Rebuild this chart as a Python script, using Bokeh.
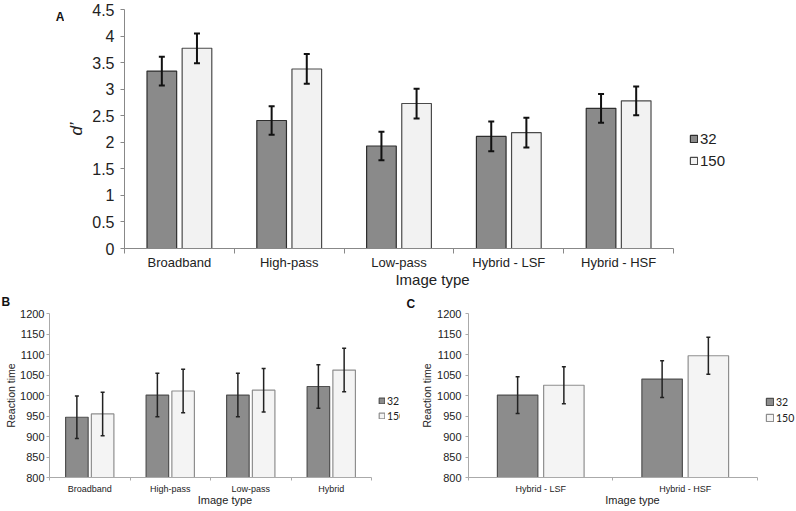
from bokeh.plotting import figure
from bokeh.layouts import column, row
from bokeh.models import (ColumnDataSource, Range1d, FixedTicker, Whisker, TeeHead,
                          Legend, LegendItem, Label, Title)
from bokeh.embed import file_html
from bokeh.resources import INLINE

# ---------------- data ----------------
series = ["32", "150"]

cats_a = ["Broadband", "High-pass", "Low-pass", "Hybrid - LSF", "Hybrid - HSF"]
dprime_32 = [3.34, 2.41, 1.93, 2.11, 2.64]
dprime_150 = [3.77, 3.38, 2.73, 2.18, 2.78]
dprime_err_32 = [0.27, 0.27, 0.27, 0.28, 0.27]
dprime_err_150 = [0.28, 0.28, 0.28, 0.28, 0.27]
yticks_a = [0, 0.5, 1, 1.5, 2, 2.5, 3, 3.5, 4, 4.5]

cats_b = ["Broadband", "High-pass", "Low-pass", "Hybrid"]
rt_b_32 = [947, 1001, 1001, 1022]
rt_b_150 = [955, 1011, 1013, 1062]
rt_b_err_32 = [52, 53, 53, 53]
rt_b_err_150 = [53, 53, 53, 53]

cats_c = ["Hybrid - LSF", "Hybrid - HSF"]
rt_c_32 = [1001, 1040]
rt_c_150 = [1025, 1097]
rt_c_err_32 = [45, 45]
rt_c_err_150 = [45, 45]

yticks_rt = [800, 850, 900, 950, 1000, 1050, 1100, 1150, 1200]

FONT = "Liberation Sans"


def make_panel(cats, v32, v150, e32, e150, yticks, width, height, borders, sty,
               legend_xy, x_extra):
    n = len(cats)
    p = figure(width=width, height=height, output_backend="svg", toolbar_location=None,
               x_range=Range1d(0, n + x_extra), y_range=Range1d(yticks[0], yticks[-1]),
               min_border_left=borders[0], min_border_right=borders[1],
               min_border_top=borders[2], min_border_bottom=borders[3])
    p.outline_line_color = None
    p.grid.grid_line_color = None

    off = 0.16
    bw = sty["bw"]
    renderers = []
    for vals, errs, sgn, fill, line in [(v32, e32, -1, sty["dark"], sty["dark_line"]),
                                        (v150, e150, 1, sty["light"], sty["light_line"])]:
        xs = [i + 0.5 + sgn * off for i in range(n)]
        src = ColumnDataSource(dict(x=xs, top=vals,
                                    upper=[v + e for v, e in zip(vals, errs)],
                                    lower=[v - e for v, e in zip(vals, errs)]))
        r = p.vbar(x="x", top="top", bottom=yticks[0], width=bw, source=src,
                   fill_color=fill, line_color=line, line_width=sty["bar_lw"])
        renderers.append(r)
        w = Whisker(base="x", upper="upper", lower="lower", source=src, level="overlay",
                    line_color=sty["err"], line_width=sty["err_lw"],
                    upper_head=TeeHead(size=sty["cap"], line_color=sty["err"], line_width=sty["err_lw"]),
                    lower_head=TeeHead(size=sty["cap"], line_color=sty["err"], line_width=sty["err_lw"]))
        p.add_layout(w)

    # x axis: labels at centres, ticks at category boundaries
    xa = p.xaxis[0]
    centers = [i + 0.5 for i in range(n)]
    xa.ticker = FixedTicker(ticks=centers, minor_ticks=list(range(n + 1)))
    xa.bounds = (0, n)
    xa.major_label_overrides = {c: cat for c, cat in zip(centers, cats)}
    xa.major_tick_line_color = None
    xa.minor_tick_line_color = sty["axis"]
    xa.minor_tick_out = sty["xtick"]
    xa.minor_tick_in = 0
    xa.axis_line_color = sty["axis"]
    xa.major_label_text_font = FONT
    xa.major_label_text_font_size = sty["cat_fs"]
    xa.major_label_text_color = "#222222"
    xa.major_label_standoff = sty["cat_standoff"]
    xa.axis_label = "Image type"
    xa.axis_label_text_font = FONT
    xa.axis_label_text_font_style = "normal"
    xa.axis_label_text_font_size = sty["xlab_fs"]
    xa.axis_label_text_color = "#222222"
    xa.axis_label_standoff = sty["xlab_standoff"]

    ya = p.yaxis[0]
    ya.ticker = FixedTicker(ticks=yticks)
    ya.major_label_overrides = {t: (str(int(t)) if float(t).is_integer() else str(t)) for t in yticks}
    ya.minor_tick_line_color = None
    ya.major_tick_line_color = sty["axis"]
    ya.major_tick_out = sty["ytick"]
    ya.major_tick_in = 0
    ya.axis_line_color = sty["axis"]
    ya.major_label_text_font = FONT
    ya.major_label_text_font_size = sty["ytick_fs"]
    ya.major_label_text_color = "#222222"
    ya.major_label_standoff = sty["ytick_standoff"]
    ya.axis_label = sty["ylabel"]
    ya.axis_label_text_font = FONT
    ya.axis_label_text_font_style = sty["ylab_style"]
    ya.axis_label_text_font_size = sty["ylab_fs"]
    ya.axis_label_text_color = "#222222"
    ya.axis_label_standoff = sty["ylab_standoff"]

    leg = Legend(items=[LegendItem(label=s, renderers=[r]) for s, r in zip(series, renderers)],
                 location=legend_xy)
    leg.background_fill_alpha = 0
    leg.border_line_alpha = 0
    leg.padding = 0
    leg.margin = 0
    leg.glyph_width = sty["lg_glyph"]
    leg.glyph_height = sty["lg_glyph"]
    leg.label_standoff = 2
    leg.label_height = sty["lg_lh"]
    leg.spacing = sty["lg_sp"]
    leg.label_text_font = sty["lg_font"]
    leg.label_text_font_size = sty["lg_fs"]
    leg.label_text_color = "#222222"
    leg.label_text_baseline = "middle"
    p.add_layout(leg)
    return p


sty_a = dict(bw=0.27, dark="#8a8a8a", dark_line="#2e2e2e", light="#f2f2f2", light_line="#4a4a4a",
             bar_lw=1.2, err="#111111", err_lw=2, cap=6, axis="#888888", xtick=5, ytick=4,
             cat_fs="13px", cat_standoff=0, xlab_fs="15px", xlab_standoff=-2,
             ytick_fs="16px", ytick_standoff=6, ylabel="d\u2019", ylab_style="italic",
             ylab_fs="17px", ylab_standoff=3,
             lg_glyph=9, lg_lh=18, lg_sp=4, lg_font=FONT, lg_fs="15px")

sty_rt = dict(bw=0.28, dark="#8c8c8c", dark_line="#505050", light="#f4f4f4", light_line="#8e8e8e",
              bar_lw=1.2, err="#222222", err_lw=1.5, cap=4, axis="#aaaaaa", xtick=3, ytick=3,
              cat_fs="9px", cat_standoff=0, xlab_fs="11px", xlab_standoff=-3,
              ytick_fs="11px", ytick_standoff=2, ylabel="Reaction time", ylab_style="normal",
              ylab_fs="10.5px", ylab_standoff=0,
              lg_glyph=7, lg_lh=13, lg_sp=2, lg_font="Lato", lg_fs="10.5px")

sty_c = dict(sty_rt, ytick_standoff=4, ylab_standoff=1, lg_sp=3, lg_glyph=9)

# strip holding the panel tag "A"
tag_a = figure(width=64, height=290, output_backend="svg", toolbar_location=None,
               x_range=Range1d(0, 64), y_range=Range1d(0, 290),
               x_axis_type=None, y_axis_type=None, min_border=0)
tag_a.outline_line_color = None
tag_a.grid.grid_line_color = None
tag_a.add_layout(Label(x=59.5, y=281, text="A", text_font=FONT, text_font_style="bold",
                       text_font_size="12px", text_align="center", text_baseline="middle",
                       text_color="#111111"))

# frame widths: A ~615 px (5 cats x 109.7 + legend room), B 351 px (4 x 80.5 + 29), C 328 px (2 x 144.5 + 39)
pa = make_panel(cats_a, dprime_32, dprime_150, dprime_err_32, dprime_err_150, yticks_a,
                732, 290, (56, 56, 9, 42), sty_a, (565, 79), 0.61)
pb = make_panel(cats_b, rt_b_32, rt_b_150, rt_b_err_32, rt_b_err_150, yticks_rt,
                400, 221, (49, 0, 23, 34), sty_rt, (329, 55), 0.36)
pc = make_panel(cats_c, rt_c_32, rt_c_150, rt_c_err_32, rt_c_err_150, yticks_rt,
                396, 221, (68, 0, 23, 34), sty_c, (297, 53), 0.27)

tb = Title(text="B", align="left", offset=-48, standoff=6, vertical_align="top",
           text_font=FONT, text_font_style="bold", text_font_size="12px", text_color="#111111")
pb.add_layout(tb, "above")
tc = Title(text="C", align="left", offset=-62, standoff=5, vertical_align="bottom",
           text_font=FONT, text_font_style="bold", text_font_size="12px", text_color="#111111")
pc.add_layout(tc, "above")

layout = column(row(tag_a, pa), row(pb, pc))
open("out.html", "w").write(file_html(layout, INLINE))
